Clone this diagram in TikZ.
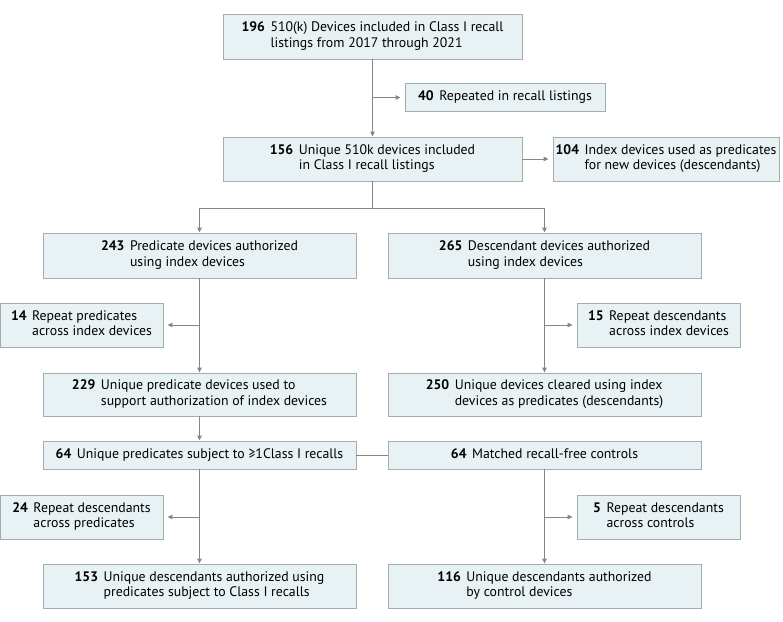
\documentclass[tikz,border=0pt]{standalone}
\usepackage{fontspec}
\setmainfont{PT Sans}
\usetikzlibrary{arrows.meta,positioning}
\definecolor{boxfill}{HTML}{E8F1F4}
\definecolor{boxline}{HTML}{A3ACAF}
\definecolor{wire}{HTML}{858585}
\newcommand{\cnt}[2]{\textbf{#1}\hspace{0.4em}\begin{tabular}[t]{@{}l@{}}#2\end{tabular}}
\begin{document}
\begin{tikzpicture}[
  x=1pt, y=-1pt,
  every node/.style={font=\fontsize{13.8}{15.5}\selectfont},
  box/.style={draw=boxline, fill=boxfill, line width=0.9pt, inner sep=0pt, align=center},
  wide/.style={box, minimum width=313pt, minimum height=44pt},
  small/.style={box, minimum width=163pt, minimum height=44pt},
  arrow/.style={draw=wire, line width=0.9pt, -{Triangle[length=5pt,width=4.5pt]}},
  side/.style={arrow, shorten >=4pt},
  wire/.style={draw=wire, line width=0.9pt}
]
\useasboundingbox (0,0) rectangle (783,621);
\node[box, minimum width=299pt, minimum height=45pt] (n196) at (372.5,36.5) {\cnt{196}{510(k) Devices included in Class I recall\\listings from 2017 through 2021}};
\node[box, minimum width=200pt, minimum height=28pt] (n40) at (505,97.5) {\cnt{40}{Repeated in recall listings}};
\node[box, minimum width=299pt, minimum height=44pt] (n156) at (372.5,159) {\cnt{156}{Unique 510k devices included\\in Class I recall listings}};
\node[box, minimum width=226pt, minimum height=44pt] (n104) at (666,159) {\cnt{104}{Index devices used as predicates\\for new devices (descendants)}};
\coordinate (split) at (372.5,208);
\node[wide, minimum height=45pt] (n243) at (199.5,255.5) {\cnt{243}{Predicate devices authorized\\using index devices}};
\node[wide, minimum height=45pt] (n265) at (544.5,255.5) {\cnt{265}{Descendant devices authorized\\using index devices}};
\node[small] (n14) at (81.5,325) {\cnt{14}{Repeat predicates\\across index devices}};
\node[small] (n15) at (658.5,325) {\cnt{15}{Repeat descendants\\across index devices}};
\node[wide, minimum height=43pt] (n229) at (199.5,394.5) {\cnt{229}{Unique predicate devices used to\\support authorization of index devices}};
\node[wide, minimum height=43pt] (n250) at (544.5,394.5) {\cnt{250}{Unique devices cleared using index\\devices as predicates (descendants)}};
\node[wide, minimum height=28pt] (n64l) at (199.5,455) {\cnt{64}{Unique predicates subject to ≥1Class I recalls}};
\node[wide, minimum height=28pt] (n64r) at (544.5,455) {\cnt{64}{Matched recall-free controls}};
\node[small] (n24) at (81.5,517) {\cnt{24}{Repeat descendants\\across predicates}};
\node[small] (n5) at (658.5,517) {\cnt{5}{Repeat descendants\\across controls}};
\node[wide] (n153) at (199.5,586) {\cnt{153}{Unique descendants authorized using\\predicates subject to Class I recalls}};
\node[wide] (n116) at (544.5,586) {\cnt{116}{Unique descendants authorized\\by control devices}};
\draw[arrow] (n196) -- (n156);
\draw[side] (n196.south |- n40.west) -- (n40.west);
\draw[side] (n156) -- (n104);
\draw[wire] (n156) -- (split);
\draw[arrow] (split) -| (n243);
\draw[arrow] (split) -| (n265);
\draw[arrow] (n243) -- (n229);
\draw[side] (n243.south |- n14.east) -- (n14.east);
\draw[arrow] (n265) -- (n250);
\draw[side] (n265.south |- n15.west) -- (n15.west);
\draw[arrow] (n229) -- (n64l);
\draw[wire] (n64l) -- (n64r);
\draw[arrow] (n64l) -- (n153);
\draw[side] (n64l.south |- n24.east) -- (n24.east);
\draw[arrow] (n64r) -- (n116);
\draw[side] (n64r.south |- n5.west) -- (n5.west);
\end{tikzpicture}
\end{document}
